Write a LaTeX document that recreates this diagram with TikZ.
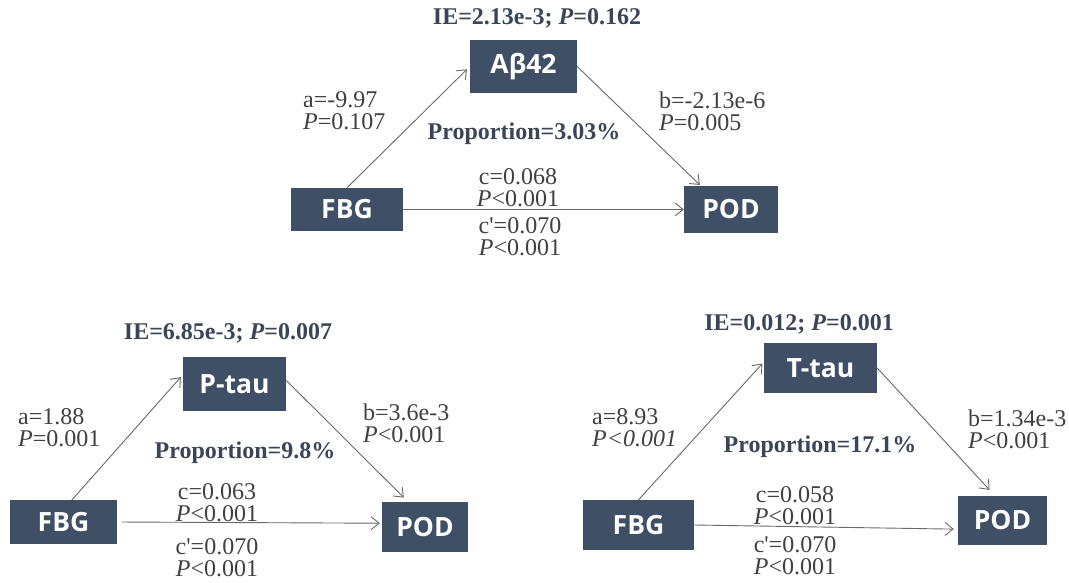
\documentclass[tikz,border=0pt]{standalone}
\usepackage{fontspec}
\setmainfont{Liberation Serif}
\newfontfamily\boxfont{Open Sans}
\usepackage{tikz}
\usetikzlibrary{arrows.meta,positioning,calc}
\definecolor{slate}{RGB}{63,79,102}
\definecolor{ink}{RGB}{64,64,64}
\definecolor{navy}{RGB}{58,70,88}
\definecolor{wire}{RGB}{105,105,105}
\newcommand{\pr}{\textquotesingle}

\begin{document}
\begin{tikzpicture}[x=1pt, y=-1pt,
  var/.style={fill=slate, text=white, font=\boxfont\bfseries\fontsize{26.5}{26.5}\selectfont, inner sep=0pt},
  est/.style={text=ink, font=\fontsize{24}{22}\selectfont, inner sep=0pt, align=left},
  eff/.style={text=navy, font=\bfseries\fontsize{24}{22}\selectfont, inner sep=0pt},
  link/.style={draw=wire, line width=0.9pt, -{Straight Barb[length=8pt,width=13pt]}}]
\useasboundingbox (0,0) rectangle (1069,583);

% Abeta42 as mediator
\node[var, minimum width=112, minimum height=43] (fbg1) at (347,209.5) {FBG};
\node[var, minimum width=107, minimum height=53] (ab) at (523.5,66.5) {Aβ42};
\node[var, minimum width=94, minimum height=46] (pod1) at (731,209.5) {POD};

\draw[link, shorten >=4pt] (fbg1.north) -- (ab.west);
\draw[link, shorten >=2pt] (ab.east) -- (pod1.142);
\draw[link] (fbg1.east) -- (pod1.west);

\node[eff] (ie1) at (537,18) {IE=2.13e-3; \textit{P}=0.162};
\node[est, anchor=west] (a1) at (303,111) {a=-9.97\\\textit{P}=0.107};
\node[est, anchor=west] (b1) at (659,111) {b=-2.13e-6\\\textit{P}=0.005};
\node[eff] (prop1) at (524,134) {Proportion=3.03\%};
\node[est, align=center] (c1) at (518,188) {c=0.068\\\textit{P}<0.001};
\node[est, align=center] (cp1) at (520,237) {c\pr=0.070\\\textit{P}<0.001};

% P-tau as mediator
\node[var, minimum width=107, minimum height=44] (fbg2) at (63.5,522) {FBG};
\node[var, minimum width=103, minimum height=54] (ptau) at (234.5,384) {P-tau};
\node[var, minimum width=86, minimum height=50] (pod2) at (425,527) {POD};

\draw[link, shorten >=3pt] (fbg2.69) -- (ptau.170);
\draw[link, shorten >=6pt] (ptau.4) -- (pod2.124);
\draw[link, shorten <=5pt, shorten >=2pt] (fbg2.east) -- (pod2.175);

\node[eff] (ie2) at (228,333) {IE=6.85e-3; \textit{P}=0.007};
\node[est, anchor=west] (a2) at (18,428) {a=1.88\\\textit{P}=0.001};
\node[est, anchor=west] (b2) at (363,423) {b=3.6e-3\\\textit{P}<0.001};
\node[eff] (prop2) at (245,453) {Proportion=9.8\%};
\node[est, align=center] (c2) at (217,503) {c=0.063\\\textit{P}<0.001};
\node[est, align=center] (cp2) at (217,558) {c\pr=0.070\\\textit{P}<0.001};

% T-tau as mediator
\node[var, minimum width=111, minimum height=50] (fbg3) at (638.5,525) {FBG};
\node[var, minimum width=113, minimum height=50] (ttau) at (820.5,368) {T-tau};
\node[var, minimum width=89, minimum height=49] (pod3) at (1002.5,520.5) {POD};

\draw[link, shorten >=2pt] (fbg3.north) -- (ttau.174);
\draw[link, shorten >=8pt] (ttau.east) -- (pod3.107);
\draw[link, shorten >=4pt] (fbg3.east) -- (pod3.191);

\node[eff] (ie3) at (799,324) {IE=0.012; \textit{P}=0.001};
\node[est, anchor=west] (a3) at (592,428) {a=8.93\\\textit{P<0.001}};
\node[est, anchor=west] (b3) at (968,429) {b=1.34e-3\\\textit{P}<0.001};
\node[eff] (prop3) at (820,447) {Proportion=17.1\%};
\node[est, align=center] (c3) at (795,506) {c=0.058\\\textit{P}<0.001};
\node[est, align=center] (cp3) at (795,556) {c\pr=0.070\\\textit{P}<0.001};
\end{tikzpicture}
\end{document}
